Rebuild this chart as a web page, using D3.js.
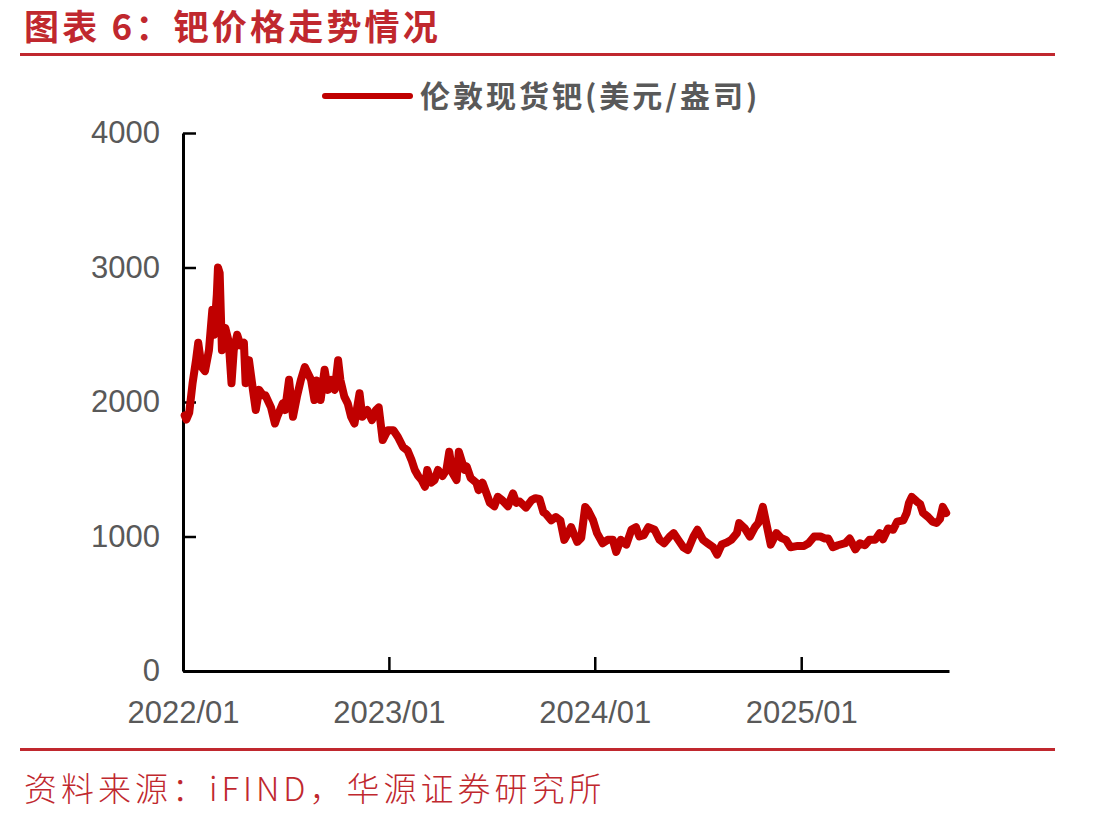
<!DOCTYPE html>
<html>
<head>
<meta charset="utf-8">
<script src="https://cdn.jsdelivr.net/npm/d3@7"></script>
<style>
  body { margin: 0; background: #fff; }
  svg { display: block; }
</style>
</head>
<body>
<svg id="chart" width="1113" height="823"></svg>
<script>
// 伦敦现货钯, 美元/盎司
const dates = [
  '2022-01-04', '2022-01-07', '2022-01-12', '2022-01-18', '2022-01-24', '2022-01-28',
  '2022-02-03', '2022-02-09', '2022-02-16', '2022-02-22', '2022-02-25', '2022-03-02',
  '2022-03-04', '2022-03-07', '2022-03-11', '2022-03-17', '2022-03-23', '2022-03-28',
  '2022-04-01', '2022-04-07', '2022-04-13', '2022-04-19', '2022-04-22', '2022-04-28',
  '2022-05-05', '2022-05-10', '2022-05-16', '2022-05-23', '2022-05-27', '2022-06-06',
  '2022-06-13', '2022-06-17', '2022-06-27', '2022-07-01', '2022-07-08', '2022-07-15',
  '2022-07-22', '2022-07-29', '2022-08-05', '2022-08-16', '2022-08-22', '2022-08-26',
  '2022-09-02', '2022-09-09', '2022-09-15', '2022-09-21', '2022-09-27', '2022-10-03',
  '2022-10-07', '2022-10-14', '2022-10-20', '2022-10-26', '2022-11-01', '2022-11-10',
  '2022-11-15', '2022-11-24', '2022-12-02', '2022-12-09', '2022-12-14', '2022-12-21',
  '2022-12-30',
  '2023-01-09', '2023-01-17', '2023-01-26', '2023-02-03', '2023-02-10', '2023-02-16',
  '2023-02-22', '2023-02-28', '2023-03-06', '2023-03-10', '2023-03-17', '2023-03-23',
  '2023-03-29', '2023-04-06', '2023-04-13', '2023-04-18', '2023-04-24', '2023-05-01',
  '2023-05-05', '2023-05-15', '2023-05-19', '2023-05-26', '2023-06-05', '2023-06-09',
  '2023-06-16', '2023-06-23', '2023-06-29', '2023-07-07', '2023-07-13', '2023-07-21',
  '2023-07-31', '2023-08-09', '2023-08-15', '2023-08-21', '2023-09-01', '2023-09-11',
  '2023-09-18', '2023-09-25', '2023-10-02', '2023-10-06', '2023-10-16', '2023-10-24',
  '2023-11-01', '2023-11-08', '2023-11-14', '2023-11-20', '2023-11-24', '2023-12-01',
  '2023-12-08', '2023-12-15', '2023-12-20', '2023-12-29',
  '2024-01-05', '2024-01-15', '2024-01-24', '2024-02-02', '2024-02-08', '2024-02-16',
  '2024-02-26', '2024-03-06', '2024-03-14', '2024-03-20', '2024-03-28', '2024-04-05',
  '2024-04-16', '2024-04-25', '2024-05-03', '2024-05-13', '2024-05-20', '2024-05-28',
  '2024-06-06', '2024-06-14', '2024-06-24', '2024-07-01', '2024-07-11', '2024-07-19',
  '2024-07-29', '2024-08-05', '2024-08-13', '2024-08-22', '2024-08-30', '2024-09-09',
  '2024-09-13', '2024-09-23', '2024-10-02', '2024-10-11', '2024-10-17', '2024-10-25',
  '2024-10-31', '2024-11-08', '2024-11-18', '2024-11-26', '2024-12-05', '2024-12-13',
  '2024-12-26',
  '2025-01-06', '2025-01-14', '2025-01-24', '2025-02-04', '2025-02-12', '2025-02-18',
  '2025-02-26', '2025-03-07', '2025-03-20', '2025-03-28', '2025-04-07', '2025-04-15',
  '2025-04-24', '2025-05-02', '2025-05-12', '2025-05-20', '2025-05-26', '2025-06-04',
  '2025-06-13', '2025-06-20', '2025-07-01', '2025-07-07', '2025-07-11', '2025-07-16',
  '2025-07-25', '2025-07-31', '2025-08-05', '2025-08-14', '2025-08-22', '2025-08-29',
  '2025-09-04', '2025-09-09', '2025-09-15',
];

const prices = [
  1900, 1870, 1920, 2140, 2310, 2440,
  2260, 2230, 2385, 2685, 2500, 2800,
  3000, 2960, 2385, 2550, 2450, 2140,
  2385, 2500, 2420, 2440, 2140, 2310,
  2090, 1940, 2090, 2050, 2050, 1960,
  1840, 1890, 1990, 1940, 2165, 1890,
  2040, 2165, 2260, 2165, 2015, 2160,
  2015, 2240, 2090, 2165, 2090, 2310,
  2165, 2040, 1990, 1890, 1840, 2065,
  1890, 1940, 1865, 1940, 1960, 1717,
  1790,
  1790, 1740, 1665, 1640, 1570, 1495,
  1450, 1420, 1370, 1495, 1400, 1420,
  1495, 1450, 1495, 1630, 1470, 1420,
  1630, 1495, 1520, 1435, 1400, 1345,
  1400, 1320, 1250, 1225, 1295, 1270,
  1225, 1320, 1250, 1260, 1215, 1270,
  1285, 1280, 1180, 1170, 1120, 1145,
  1120, 975, 1020, 1070, 1030, 960,
  990, 1220, 1195, 1120,
  1025, 950, 975, 975, 885, 975,
  940, 1050, 1070, 1000, 1010, 1070,
  1050, 975, 950, 1000, 1025, 975,
  920, 900, 1000, 1050, 975, 950,
  920, 865, 940, 955, 975, 1025,
  1100, 1060, 1000, 1070, 1100, 1220,
  1100, 940, 1025, 990, 975, 920,
  930,
  930, 950, 1000, 1000, 985, 985,
  920, 935, 950, 985, 905, 950,
  935, 975, 975, 1025, 980, 1060,
  1050, 1110, 1120, 1175, 1250, 1295,
  1260, 1240, 1175, 1145, 1110, 1100,
  1130, 1220, 1175,
];

const yTicks = [0, 1000, 2000, 3000, 4000];
const xTicks = ['2022-01-01', '2023-01-01', '2024-01-01', '2025-01-01'];
const seriesName = '伦敦现货钯(美元/盎司)';
const titleText = '图表 6：钯价格走势情况';
const sourceText = '资料来源：iFIND，华源证券研究所';

const red = '#c0282e';
const lineColor = '#c00000';
const gray = '#595959';

const svg = d3.select('#chart');
const margin = {
  top: 133, right: 164, bottom: 152, left: 183,
};
const width = +svg.attr('width') - margin.left - margin.right;
const height = +svg.attr('height') - margin.top - margin.bottom;

const parse = d3.timeParse('%Y-%m-%d');
const data = dates.map((d, i) => ({ date: parse(d), value: prices[i] }));

// header
svg.append('text')
  .attr('x', 24)
  .attr('y', 40)
  .attr('fill', red)
  .attr('font-family', '"Noto Sans CJK SC", sans-serif')
  .attr('font-weight', 700)
  .attr('font-size', 35)
  .attr('letter-spacing', 3.2)
  .text(titleText);

svg.append('rect')
  .attr('x', 20).attr('y', 53)
  .attr('width', 1035).attr('height', 3)
  .attr('fill', red);

// footer
svg.append('rect')
  .attr('x', 20).attr('y', 748)
  .attr('width', 1035).attr('height', 3)
  .attr('fill', red);

svg.append('text')
  .attr('x', 24)
  .attr('y', 801)
  .attr('fill', red)
  .attr('font-family', '"Noto Sans CJK SC", sans-serif')
  .attr('font-weight', 300)
  .attr('font-size', 33)
  .attr('letter-spacing', 4)
  .text(sourceText);

// legend
svg.append('line')
  .attr('x1', 325).attr('x2', 410)
  .attr('y1', 96).attr('y2', 96)
  .attr('stroke', lineColor)
  .attr('stroke-width', 6)
  .attr('stroke-linecap', 'round');

svg.append('text')
  .attr('x', 420)
  .attr('y', 107)
  .attr('fill', gray)
  .attr('font-family', '"Noto Sans CJK SC", sans-serif')
  .attr('font-weight', 700)
  .attr('font-size', 30)
  .attr('letter-spacing', 3)
  .text(seriesName);

const g = svg.append('g').attr('transform', `translate(${margin.left},${margin.top})`);

const x = d3.scaleTime()
  .domain([parse('2022-01-01'), parse('2025-09-20')])
  .range([0, width]);

const y = d3.scaleLinear()
  .domain([0, 4000])
  .range([height, 0]);

const xAxis = g.append('g')
  .attr('transform', `translate(0,${height})`)
  .call(d3.axisBottom(x)
    .tickValues(xTicks.map(parse))
    .tickSize(-14)
    .tickSizeOuter(0)
    .tickPadding(30)
    .tickFormat(d3.timeFormat('%Y/%m')));

const yAxis = g.append('g')
  .call(d3.axisLeft(y)
    .tickValues(yTicks)
    .tickSize(-13)
    .tickSizeOuter(0)
    .tickPadding(23)
    .tickFormat(d3.format('d')));

[xAxis, yAxis].forEach((a) => {
  a.select('.domain').attr('stroke', '#000').attr('stroke-width', 3);
  a.selectAll('.tick line').attr('stroke', '#000').attr('stroke-width', 2.5);
  a.selectAll('.tick text')
    .attr('fill', gray)
    .attr('font-family', '"Liberation Sans", Arial, sans-serif')
    .attr('font-size', 31);
});
xAxis.selectAll('.tick text').attr('dy', '0.71em');

const line = d3.line()
  .x(d => x(d.date))
  .y(d => y(d.value));

g.append('path')
  .datum(data)
  .attr('fill', 'none')
  .attr('stroke', lineColor)
  .attr('stroke-width', 8)
  .attr('stroke-linejoin', 'round')
  .attr('stroke-linecap', 'round')
  .attr('d', line);
</script>
</body>
</html>
